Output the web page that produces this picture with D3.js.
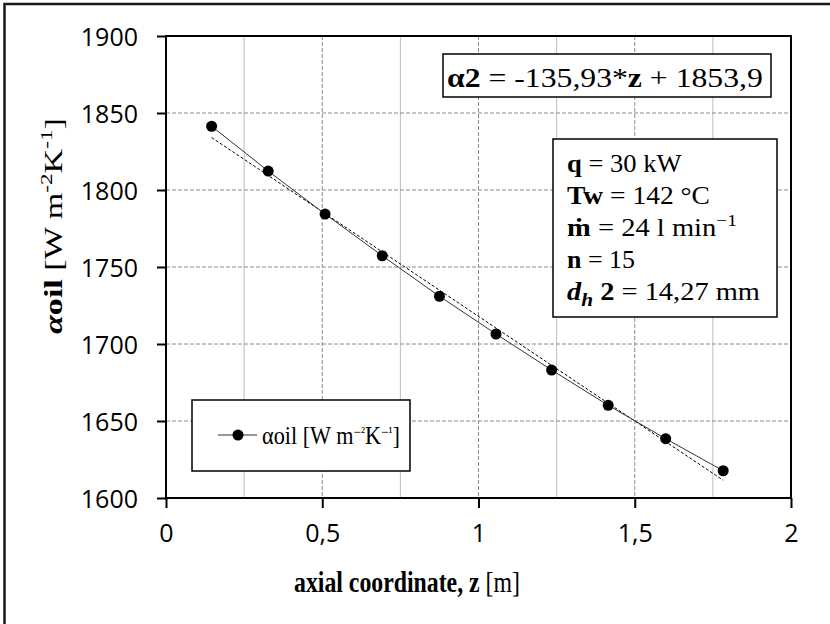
<!DOCTYPE html>
<html><head><meta charset="utf-8">
<script src="https://cdn.jsdelivr.net/npm/d3@7"></script>
<style>body{margin:0;background:#fff} svg{display:block}</style>
</head><body><svg id="c" width="830" height="624"></svg>
<script>
// ---- data ----
const zValues = [0.146, 0.327, 0.509, 0.692, 0.875, 1.056, 1.234, 1.415, 1.599, 1.783];
const alphaOil = [1841.4, 1812.3, 1784.4, 1757.3, 1731.0, 1706.5, 1683.1, 1660.2, 1638.5, 1617.7];
const xTickValues = [0, 0.5, 1, 1.5, 2];
const xTickLabels = ["0", "0,5", "1", "1,5", "2"];
const xMinorGrid = [0.25, 0.75, 1.25, 1.75];
const yTickValues = [1600, 1650, 1700, 1750, 1800, 1850, 1900];
const yTickLabels = ["1600", "1650", "1700", "1750", "1800", "1850", "1900"];
const trendSlope = -135.93;
const trendIntercept = 1853.9;

const svg = d3.select("#c");
const W = 830, H = 624;
const L = 166, R = 791, T = 36, B = 498;
const x = d3.scaleLinear().domain([0, 2]).range([L, R]);
const y = d3.scaleLinear().domain([1600, 1900]).range([B, T]);
const serif = "'Liberation Serif','Times New Roman',serif";
const sans = "'Open Sans','DejaVu Sans',sans-serif";

svg.append("rect").attr("width", W).attr("height", H).attr("fill", "#fff");
// outer frame (left & top)
svg.append("path").attr("d", `M4.5,${H} V4 H${W}`).attr("fill", "none").attr("stroke", "#1a1a1a").attr("stroke-width", 2.5);

// grid
const grid = svg.append("g");
grid.selectAll(".mg").data(xMinorGrid).join("line")
  .attr("x1", d => x(d)).attr("x2", d => x(d)).attr("y1", T).attr("y2", B)
  .attr("stroke", "#bdbdbd").attr("stroke-width", 1);
grid.selectAll(".vg").data(xTickValues.slice(1, -1)).join("line")
  .attr("x1", d => x(d)).attr("x2", d => x(d)).attr("y1", T).attr("y2", B)
  .attr("stroke", "#8a8a8a").attr("stroke-width", 1).attr("stroke-dasharray", "4,2");
grid.selectAll(".hg").data(yTickValues.slice(1, -1)).join("line")
  .attr("x1", L).attr("x2", R).attr("y1", d => y(d)).attr("y2", d => y(d))
  .attr("stroke", "#8a8a8a").attr("stroke-width", 1).attr("stroke-dasharray", "4,2");

// axes
const yAxis = d3.axisLeft(y).tickValues(yTickValues).tickSize(9).tickPadding(19)
  .tickFormat((d, i) => yTickLabels[i]);
const gy = svg.append("g").attr("transform", `translate(${L},0)`).call(yAxis);
const xAxis = d3.axisBottom(x).tickValues(xTickValues).tickSize(10).tickPadding(16)
  .tickFormat((d, i) => xTickLabels[i]);
const gx = svg.append("g").attr("transform", `translate(0,${B})`).call(xAxis);
[gx, gy].forEach(g => {
  g.select(".domain").remove();
  g.selectAll(".tick line").attr("stroke", "#000").attr("stroke-width", 2);
  g.selectAll(".tick text").attr("font-family", sans).attr("font-size", 25).attr("fill", "#000");
});
gy.selectAll(".tick text").attr("dy", "0.36em");

// plot frame
svg.append("rect").attr("x", L).attr("y", T).attr("width", R - L).attr("height", B - T)
  .attr("fill", "none").attr("stroke", "#000").attr("stroke-width", 2);

// trendline
const z0 = d3.min(zValues), z1 = d3.max(zValues);
svg.append("line")
  .attr("x1", x(z0)).attr("y1", y(trendSlope * z0 + trendIntercept))
  .attr("x2", x(z1)).attr("y2", y(trendSlope * z1 + trendIntercept))
  .attr("stroke", "#000").attr("stroke-width", 1).attr("stroke-dasharray", "3,2");

// series
const pts = zValues.map((z, i) => [z, alphaOil[i]]);
svg.append("path").datum(pts)
  .attr("d", d3.line().x(d => x(d[0])).y(d => y(d[1])))
  .attr("fill", "none").attr("stroke", "#333").attr("stroke-width", 1);
svg.selectAll(".pt").data(pts).join("circle")
  .attr("cx", d => x(d[0])).attr("cy", d => y(d[1])).attr("r", 5.5).attr("fill", "#000");

// rich text helper
function rich(parent, parts, size, family, supScale, supShift) {
  const t = parent.append("text").attr("font-family", family).attr("font-size", size).attr("fill", "#000");
  let shift = 0;
  parts.forEach(p => {
    const s = t.append("tspan").text(p.t);
    if (p.b) s.attr("font-weight", "bold");
    if (p.i) s.attr("font-style", "italic");
    const target = p.sup ? -(supShift || 0.4) * size : p.sub ? 0.22 * size : 0;
    s.attr("dy", target - shift); shift = target;
    if (p.sup || p.sub) s.attr("font-size", size * (p.sub ? 0.75 : (supScale || 0.68)));
  });
  return t;
}
function placed(parts, size, family, px, py, width, rot, supScale, supShift) {
  const g = svg.append("g");
  const t = rich(g, parts, size, family, supScale, supShift);
  const w = t.node().getBBox().width;
  const sx = width ? width / w : 1;
  g.attr("transform", `translate(${px},${py})${rot ? ` rotate(${rot})` : ""} scale(${sx},1)`);
  return g;
}

// equation box
svg.append("rect").attr("x", 443).attr("y", 54).attr("width", 328).attr("height", 43)
  .attr("fill", "#fff").attr("stroke", "#000").attr("stroke-width", 1.5);
placed([{ t: "α2", b: 1 }, { t: " = -135,93*" }, { t: "z", b: 1 }, { t: " + 1853,9" }], 27, serif, 447, 87, 316);

// parameter box
svg.append("rect").attr("x", 553).attr("y", 139).attr("width", 224).attr("height", 178)
  .attr("fill", "#fff").attr("stroke", "#000").attr("stroke-width", 1.5);
placed([{ t: "q", b: 1 }, { t: " = 30 kW" }], 26, serif, 567, 172, 115);
placed([{ t: "Tw", b: 1 }, { t: " = 142 °C" }], 26, serif, 567, 204, 143);
placed([{ t: "ṁ", b: 1 }, { t: " = 24 l min" }, { t: "−1", sup: 1 }], 26, serif, 567, 236, 170);
placed([{ t: "n", b: 1 }, { t: " = 15" }], 26, serif, 567, 268, 68);
placed([{ t: "d", b: 1, i: 1 }, { t: "h", b: 1, i: 1, sub: 1 }, { t: " 2", b: 1 }, { t: " = 14,27  mm" }], 26, serif, 567, 300, 193);

// legend
svg.append("rect").attr("x", 192).attr("y", 400).attr("width", 218).attr("height", 71)
  .attr("fill", "#fff").attr("stroke", "#000").attr("stroke-width", 1.5);
svg.append("line").attr("x1", 218).attr("x2", 257).attr("y1", 435).attr("y2", 435)
  .attr("stroke", "#333").attr("stroke-width", 1);
svg.append("circle").attr("cx", 238).attr("cy", 435).attr("r", 5.5).attr("fill", "#000");
placed([{ t: "αoil [W m" }, { t: "−²", sup: 1 }, { t: "K" }, { t: "−¹", sup: 1 }, { t: "]" }], 25, serif, 262, 444, 138, 0, 0.6, 0.3);

// axis titles
placed([{ t: "axial coordinate, z", b: 1 }, { t: " [m]" }], 30, serif, 294, 592, 226);
placed([{ t: "α", b: 1, i: 1 }, { t: "oil", b: 1 }, { t: "  [W m" }, { t: "-2", sup: 1 }, { t: "K" }, { t: "-1", sup: 1 }, { t: "]" }], 26, serif, 62, 334, 216, -90);
</script></body></html>
